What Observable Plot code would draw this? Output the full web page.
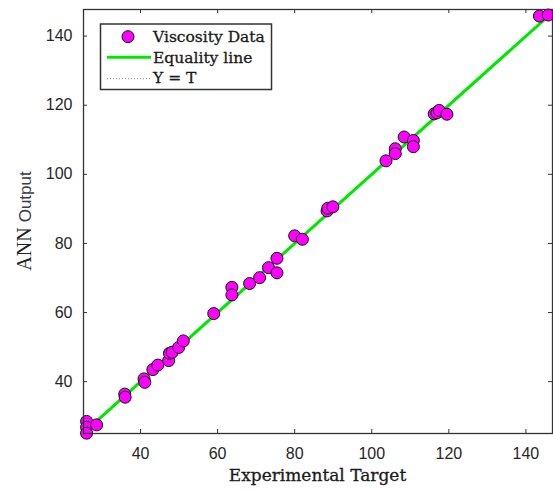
<!DOCTYPE html>
<html><head><meta charset="utf-8">
<script src="https://cdn.jsdelivr.net/npm/d3@7"></script>
<script src="https://cdn.jsdelivr.net/npm/@observablehq/plot@0.6"></script>
<style>body{margin:0;background:#fff}</style>
</head><body><div id="chart"></div>
<script>
// Experimental target (x) and ANN output (y) for the viscosity data
const target = [26.0, 26.0, 26.0, 28.6, 35.9, 36.0, 40.9, 41.1, 43.2, 44.5,
  47.3, 47.5, 48.2, 49.9, 51.1, 59.0, 63.7, 63.7, 68.3, 70.9,
  73.2, 75.4, 75.4, 80.0, 82.0, 88.4, 88.6, 89.9, 103.7, 106.1,
  106.1, 108.4, 110.8, 110.8, 116.2, 116.9, 117.5, 119.5, 143.5, 145.8];
const output = [28.5, 26.8, 25.1, 27.5, 36.4, 35.5, 40.8, 39.8, 43.5, 44.8,
  46.1, 48.2, 48.5, 49.9, 51.8, 59.7, 67.3, 65.1, 68.4, 70.1,
  73.0, 75.7, 71.5, 82.2, 81.2, 89.4, 90.2, 90.6, 103.9, 107.4,
  106.0, 110.8, 109.8, 108.0, 117.5, 117.8, 118.5, 117.4, 145.8, 146.1];
const xTicks = [40, 60, 80, 100, 120, 140];
const yTicks = [40, 60, 80, 100, 120, 140];
const xLabel = "Experimental Target";
const yLabelMain = "ANN";
const yLabelSub = "Output";
const legendLabels = ["Viscosity Data", "Equality line", "Y = T"];

const points = target.map((t, i) => ({t, o: output[i]}));
const lo = d3.min(target), hi = d3.max(target);
const lineData = [{t: lo, o: lo}, {t: hi, o: hi}];

const W = 553, H = 491, mL = 83, mR = 1, mT = 9, mB = 58;
const innerH = H - mT - mB, innerW = W - mL - mR;
const tk = 4;
const GREEN = "#00e800", MAGENTA = "#ff00ff";

const plot = Plot.plot({
  width: W, height: H,
  marginLeft: mL, marginRight: mR, marginTop: mT, marginBottom: mB,
  style: {fontFamily: "'Liberation Sans', Arial, sans-serif", fontSize: "16px", color: "#262626", background: "#fff"},
  x: {domain: [25.2, 146.9]},
  y: {domain: [25, 147.7]},
  marks: [
    Plot.line(lineData, {x: "t", y: "o", stroke: "#888", strokeDasharray: "1,2"}),
    Plot.line(lineData, {x: "t", y: "o", stroke: GREEN, strokeWidth: 3}),
    Plot.dot(points, {x: "t", y: "o", r: 6, fill: MAGENTA, stroke: "#111", strokeWidth: 1}),
    Plot.tickX(xTicks, {x: d => d, insetTop: innerH - tk, stroke: "#333"}),
    Plot.tickX(xTicks, {x: d => d, insetBottom: innerH - tk, stroke: "#333"}),
    Plot.tickY(yTicks, {y: d => d, insetRight: innerW - tk, stroke: "#333"}),
    Plot.tickY(yTicks, {y: d => d, insetLeft: innerW - tk, stroke: "#333"}),
    Plot.axisX({ticks: xTicks, tickSize: 0, tickPadding: 14, label: null}),
    Plot.axisY({ticks: yTicks, tickSize: 0, tickPadding: 11, label: null}),
    Plot.frame({stroke: "#333", strokeWidth: 1.3})
  ]
});

const svg = d3.select(plot);
// x label
svg.append("text")
  .attr("x", mL + innerW / 2).attr("y", 481)
  .attr("text-anchor", "middle")
  .style("font-family", "'DejaVu Serif', serif").style("font-size", "17px").style("fill", "#1a1a1a")
  .style("stroke", "#1a1a1a").style("stroke-width", "0.3px")
  .text(xLabel);
// y label
const yl = svg.append("text")
  .attr("transform", `translate(31,${mT + innerH / 2}) rotate(-90)`)
  .attr("text-anchor", "middle").style("fill", "#222");
yl.append("tspan").style("font-family", "'Liberation Serif', serif").style("font-size", "20px").text(yLabelMain + " ");
yl.append("tspan").style("font-family", "'Liberation Sans', sans-serif").style("font-size", "17px").style("fill", "#3a3a4a").text(yLabelSub);

// legend
const lg = svg.append("g");
lg.append("rect").attr("x", 100.5).attr("y", 24).attr("width", 171).attr("height", 65.5)
  .attr("fill", "#fff").attr("stroke", "#333").attr("stroke-width", 1.5);
lg.append("circle").attr("cx", 128).attr("cy", 36.7).attr("r", 6)
  .attr("fill", MAGENTA).attr("stroke", "#111");
lg.append("line").attr("x1", 107).attr("x2", 151).attr("y1", 57.3).attr("y2", 57.3)
  .attr("stroke", GREEN).attr("stroke-width", 3);
lg.append("line").attr("x1", 107).attr("x2", 151).attr("y1", 78.7).attr("y2", 78.7)
  .attr("stroke", "#888").attr("stroke-dasharray", "1,2");
const baselines = [41.5, 62.5, 83];
legendLabels.forEach((s, i) => {
  lg.append("text").attr("x", 153).attr("y", baselines[i])
    .attr("text-anchor", "start")
    .style("font-family", "'DejaVu Serif', serif").style("font-size", "15.5px").style("fill", "#1a1a1a")
    .style("stroke", "#1a1a1a").style("stroke-width", "0.3px")
    .text(s);
});

document.getElementById("chart").appendChild(plot);
</script>
</body></html>
